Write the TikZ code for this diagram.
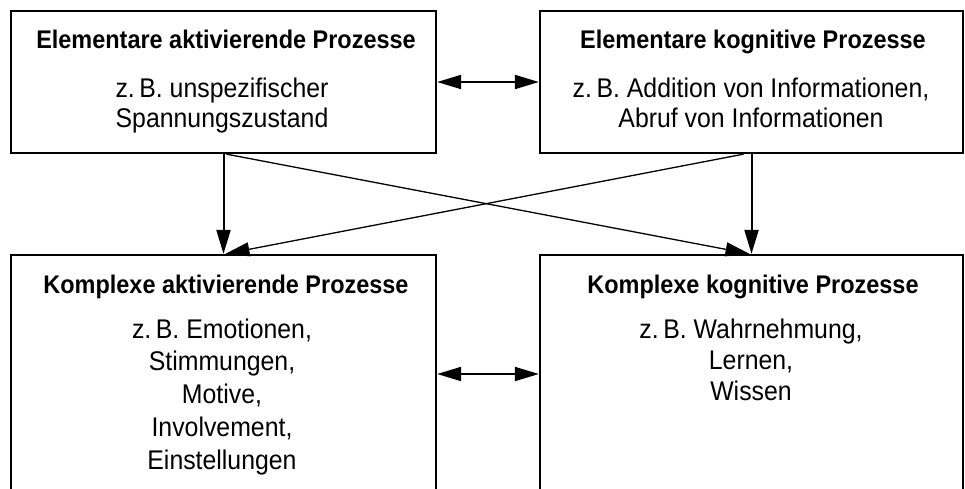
\documentclass[tikz,border=0pt]{standalone}
\usepackage{fontspec}
\setmainfont[FakeStretch=0.92]{Liberation Sans}
\usetikzlibrary{arrows.meta,calc}
\begin{document}
\begin{tikzpicture}[x=1pt,y=-1pt,
  procbox/.style={draw,line width=2.3pt,inner sep=0pt,minimum width=425pt},
  boxtitle/.style={anchor=base,inner sep=0pt,font=\bfseries\fontsize{25.5}{30}\selectfont},
  boxbody/.style={anchor=north,inner sep=0pt,align=center,font=\fontsize{27}{#1}\selectfont},
  boxbody/.default=30,
  tip/.style={-{Triangle[length=24pt,width=14pt]}},
  linkv/.style={tip,line width=2pt},
  linkx/.style={tip,line width=1.3pt},
  linkh/.style={{Triangle[length=24pt,width=14pt]}-{Triangle[length=24pt,width=14pt]},line width=2pt}]
\useasboundingbox (0,0) rectangle (965,488);
\clip (0,0) rectangle (965,488);

% the four process boxes
\node[procbox,minimum height=142pt] (TL) at (223.5,82) {};
\node[procbox,minimum height=142pt,minimum width=423pt] (TR) at (751.5,82) {};
\node[procbox,minimum height=265pt] (BL) at (223.5,387.5) {};
\node[procbox,minimum height=265pt,minimum width=423pt] (BR) at (751.5,387.5) {};

% headings
\node[boxtitle] (TLh) at (226,48) {Elementare aktivierende Prozesse};
\node[boxtitle] (TRh) at (753,48) {Elementare kognitive Prozesse};
\node[boxtitle] (BLh) at (226,293) {Komplexe aktivierende Prozesse};
\node[boxtitle] (BRh) at (753,293) {Komplexe kognitive Prozesse};

% examples
\node[boxbody] (TLb) at (222,77.5) {z.\,B. unspezifischer\\Spannungszustand};
\node[boxbody] (TRb) at (751,77.5) {z.\,B. Addition von Informationen,\\Abruf von Informationen};
\node[boxbody=32.7] (BLb) at (222,318.5) {z.\,B. Emotionen,\\Stimmungen,\\Motive,\\Involvement,\\Einstellungen};
\node[boxbody=31] (BRb) at (751,318.5) {z.\,B. Wahrnehmung,\\Lernen,\\Wissen};

% connectors
\coordinate (lowrow) at (0,374);
\draw[linkh] (TL.east) -- (TR.west);
\draw[linkh] (BL.east |- lowrow) -- (BR.west |- lowrow);
\draw[linkv] (TL.south) -- (BL.north);
\draw[linkv] (TR.south) -- (BR.north);
\draw[linkx] ($(TL.south)+(3,0)$) -- ($(BR.north)+(-2,0)$);
\draw[linkx] ($(TR.south)+(-8,0)$) -- ($(BL.north)+(2,0)$);
\end{tikzpicture}
\end{document}
